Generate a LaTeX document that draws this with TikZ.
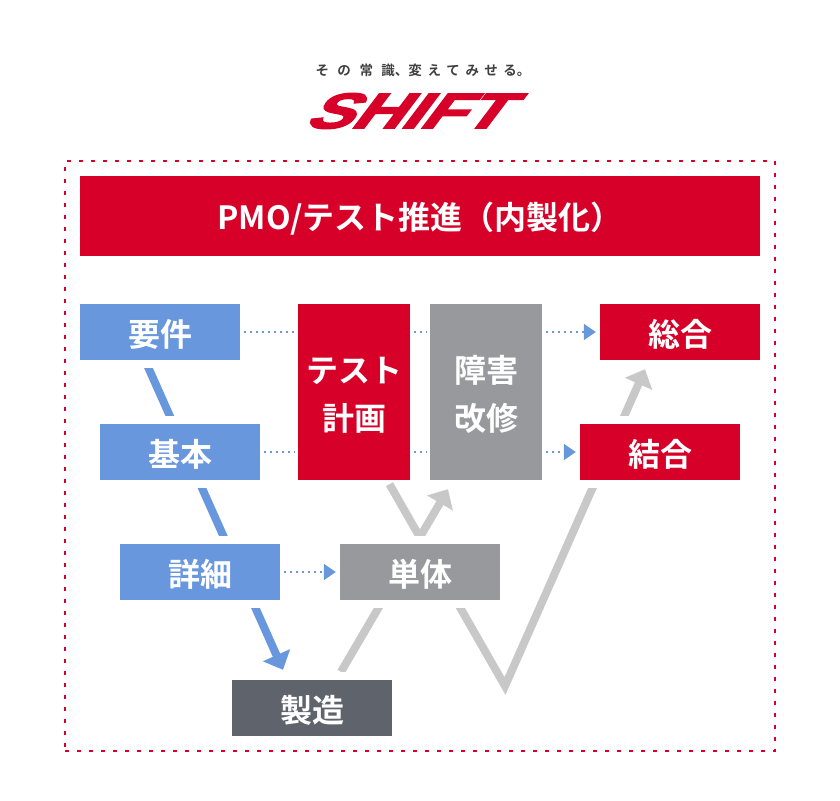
\documentclass[tikz,border=0pt]{standalone}
\usepackage{fontspec}
\setmainfont{Noto Sans CJK JP}[BoldFont={Noto Sans CJK JP Bold}]
\newfontfamily\logofont{Liberation Sans Bold}[FakeSlant=0.55,FakeBold=3]
\usetikzlibrary{%
	arrows.meta,%
	backgrounds,%
	calc
}
\definecolor{shiftred}{HTML}{D70029}
\definecolor{stepblue}{HTML}{6897DE}
\definecolor{stepgray}{HTML}{97999D}
\definecolor{stepdark}{HTML}{5F636B}
\definecolor{vgray}{HTML}{C8C8C8}
\newcommand{\wgap}{\hspace{8.5pt}}
\newcommand{\ngap}{\hspace{5.5pt}}
\newcommand{\lowline}[1]{\raisebox{-14.5pt}[0pt][0pt]{#1}}
\tikzset{
	box/.style={inner sep=0pt, text=white, align=center, font=\fontsize{32}{48}\selectfont\bfseries, execute at begin node={\rule{0pt}{32.5pt}}},
	halo/.style={preaction={draw=white, line width=16pt}},
	wide/.style={box, halo, minimum width=160pt, minimum height=56pt},
	tall/.style={box, minimum width=112pt, minimum height=176pt},
	vblue/.style={draw=stepblue, line width=8pt, -{Triangle[length=16pt,width=29pt]}},
	vline/.style={draw=vgray, line width=8pt, miter limit=10, -{Triangle[length=16pt,width=29pt]}},
	dotline/.style={draw=stepblue, line width=2pt, dash pattern=on 2pt off 4pt, shorten <=4pt, shorten >=3pt},
	dotarrow/.style={dotline, shorten >=4pt, -{Triangle[length=12pt,width=16pt]}}
}
\begin{document}
\begin{tikzpicture}[x=1pt, y=-1pt]
		\useasboundingbox (0,0) rectangle (840,800);
		
		% Logo
		\node[text=black!75, font=\fontsize{13.5}{13.5}\selectfont\bfseries] (slogan) at (423,70) {そ\wgap の\wgap 常\wgap 識、変\ngap え\ngap て\ngap み\ngap せ\ngap る。};
		\node[text=shiftred, font=\fontsize{50}{50}\logofont, xscale=1.375, inner sep=0pt] (logo) at (402.5,111) {SHIFT};
		
		% Frame
		\node[draw=shiftred, line width=2pt, dash pattern=on 4pt off 8pt, minimum width=710pt, minimum height=590pt, inner sep=0pt] (frame) at (420,456) {};
		
		% Nodes
		\node[box, fill=shiftred, minimum width=680pt, minimum height=80pt] (pmo) at (420,216) {PMO/テスト推進（内製化）};
		\node[wide, fill=stepblue] (youken) at (160,332) {要件};
		\node[wide, fill=stepblue] (kihon) at (180,452) {基本};
		\node[wide, fill=stepblue] (shosai) at (200,572) {詳細};
		\node[wide, fill=stepdark] (seizo) at (312,708) {製造};
		\node[wide, fill=stepgray] (tantai) at (420,572) {単体};
		\node[wide, fill=shiftred] (ketsugo) at (660,452) {結合};
		\node[wide, fill=shiftred] (sogo) at (680,332) {総合};
		\node[tall, fill=shiftred] (test) at (354,392) {\lowline{テスト}\\\lowline{計画}};
		\node[tall, fill=stepgray] (kaishu) at (486,392) {\lowline{障害}\\\lowline{改修}};
		
		% Points where the V lines end
		\coordinate (seizotip) at ([xshift=-29pt,yshift=10pt]seizo.north);
		\coordinate (seizoup) at ([xshift=29pt,yshift=8pt]seizo.north);
		\coordinate (kaishutip) at ([xshift=-38pt,yshift=-9pt]kaishu.south);
		\coordinate (testdown) at ([xshift=35.5pt,yshift=-4pt]test.south);
		\coordinate (vbottom) at (505,686);
		\coordinate (sogotip) at ([xshift=-35pt,yshift=-9pt]sogo.south);
		
		% V lines, behind the boxes
		\begin{scope}[on background layer]
			\draw[vblue] ([xshift=-15pt]youken.south) -- (seizotip);
			\draw[vline] (seizoup) -- (kaishutip);
			\draw[vline] (testdown) -- (vbottom) -- (sogotip);
		\end{scope}
		
		% Dotted arrows
		\draw[dotline] (youken.east) -- (youken.east -| test.west);
		\draw[dotline] (youken.east -| test.east) -- (youken.east -| kaishu.west);
		\draw[dotarrow] (youken.east -| kaishu.east) -- (sogo.west);
		\draw[dotline] (kihon.east) -- (kihon.east -| test.west);
		\draw[dotline] (kihon.east -| test.east) -- (kihon.east -| kaishu.west);
		\draw[dotarrow] (kihon.east -| kaishu.east) -- (ketsugo.west);
		\draw[dotarrow] (shosai.east) -- (tantai.west);
	\end{tikzpicture}
\end{document}
